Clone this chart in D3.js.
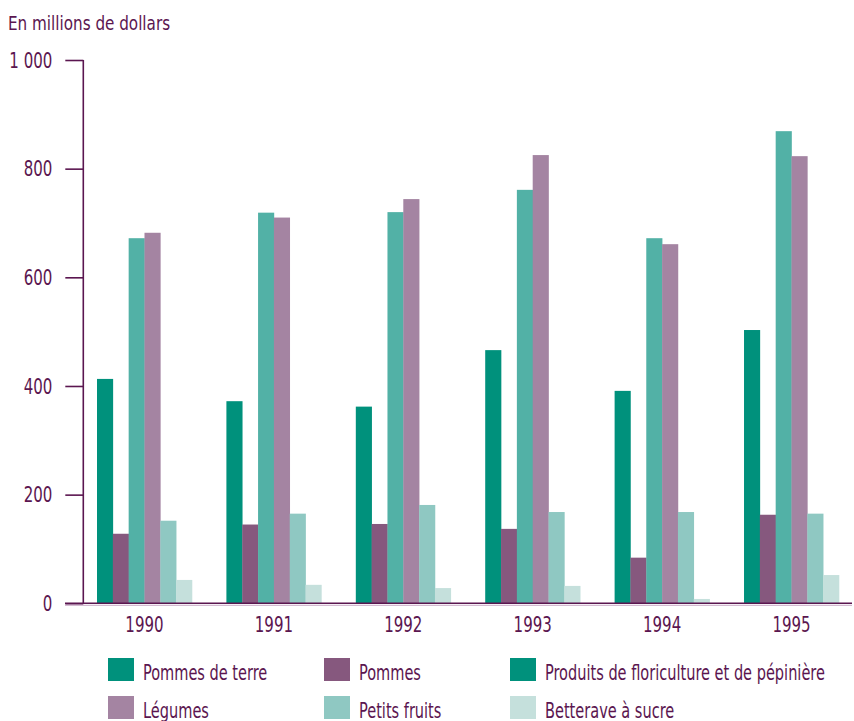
<!DOCTYPE html>
<html>
<head>
<meta charset="utf-8">
<script src="https://cdn.jsdelivr.net/npm/d3@7"></script>
<style>
  body { margin: 0; background: #fff; }
  svg { display: block; }
  text { font-family: "DejaVu Sans Condensed", "DejaVu Sans", sans-serif; fill: #5b1650; }
</style>
</head>
<body>
<div id="chart"></div>
<script>
const years = ["1990", "1991", "1992", "1993", "1994", "1995"];
const seriesNames = ["Pommes de terre", "Pommes", "Produits de floriculture et de pépinière", "Légumes", "Petits fruits", "Betterave à sucre"];
const pommesDeTerre = [413, 372, 362, 466, 391, 503];
const pommes = [128, 145, 146, 137, 84, 163];
const floriculture = [672, 719, 720, 761, 672, 869];
const legumes = [682, 710, 744, 825, 661, 823];
const petitsFruits = [152, 165, 181, 168, 168, 165];
const betterave = [43, 34, 28, 32, 8, 52];
const yTicks = [0, 200, 400, 600, 800, 1000];
const yTickLabels = ["0", "200", "400", "600", "800", "1 000"];
const unitLabel = "En millions de dollars";

const barColors = ["#00917c", "#86587e", "#52b1a6", "#a484a2", "#8fc8c2", "#c5e0dc"];
const legendColors = ["#00917c", "#86587e", "#00917c", "#a484a2", "#8fc8c2", "#c5e0dc"];
const values = [pommesDeTerre, pommes, floriculture, legumes, petitsFruits, betterave];
const ink = "#5b1650";

// horizontally condense text (reference uses a narrow face)
function condense(sel, k) {
  sel.each(function () {
    const t = d3.select(this);
    const x = +t.attr("x") || 0;
    t.attr("x", x / k).attr("transform", `scale(${k},1)`);
  });
}

const W = 854, H = 721;
const svg = d3.select("#chart").append("svg").attr("width", W).attr("height", H);

const y = d3.scaleLinear().domain([0, 1000]).range([603.3, 60]);
const x0 = d3.scaleBand().domain(years).range([97, 839]).paddingInner(0.266).paddingOuter(0);
const x1 = d3.scaleBand().domain(d3.range(seriesNames.length)).range([0, x0.bandwidth()]).padding(0);

// bars
const groups = svg.append("g").selectAll("g").data(years).join("g")
  .attr("transform", d => `translate(${x0(d)},0)`);
groups.selectAll("rect")
  .data((yr, i) => values.map((s, k) => ({k, v: s[i]})))
  .join("rect")
  .attr("x", d => x1(d.k))
  .attr("width", x1.bandwidth() + 0.3)
  .attr("y", d => y(d.v))
  .attr("height", d => y(0) - y(d.v))
  .attr("fill", d => barColors[d.k]);

// y axis
const yAxis = d3.axisLeft(y).tickValues(yTicks)
  .tickFormat((d, i) => yTickLabels[i]).tickSize(18).tickPadding(13);
const ga = svg.append("g").attr("transform", "translate(83.3,0)").call(yAxis);
ga.select(".domain").remove();
ga.selectAll(".tick line").attr("stroke", ink).attr("stroke-width", 1.6);
ga.selectAll(".tick text").attr("font-size", 22).attr("fill", ink)
  .style("font-family", '"DejaVu Sans Condensed", "DejaVu Sans", sans-serif');
condense(ga.selectAll(".tick text"), 0.76);
svg.append("line").attr("x1", 83.3).attr("x2", 83.3).attr("y1", y(1000)).attr("y2", y(0))
  .attr("stroke", ink).attr("stroke-width", 1.6);
// baseline
svg.append("line").attr("x1", 65).attr("x2", 852).attr("y1", y(0)).attr("y2", y(0))
  .attr("stroke", ink).attr("stroke-width", 1.6);
svg.append("line").attr("x1", 65).attr("x2", 852).attr("y1", y(0) + 2).attr("y2", y(0) + 2)
  .attr("stroke", "#c9a9c6").attr("stroke-width", 1);

// x axis labels
const xAxis = d3.axisBottom(x0).tickSize(0).tickPadding(13);
const gx = svg.append("g").attr("transform", `translate(0,${y(0)})`).call(xAxis);
gx.select(".domain").remove();
gx.selectAll(".tick text").attr("font-size", 22).attr("fill", ink)
  .style("font-family", '"DejaVu Sans Condensed", "DejaVu Sans", sans-serif');
condense(gx.selectAll(".tick text"), 0.76);

// unit label
const ul = svg.append("text").attr("x", 8).attr("y", 30).attr("font-size", 20).text(unitLabel);
condense(ul, 0.845);

// legend
const legCols = [108, 324, 510];
const legRows = [658, 696];
const leg = svg.append("g").selectAll("g").data(seriesNames).join("g")
  .attr("transform", (d, i) => `translate(${legCols[i % 3]},${legRows[Math.floor(i / 3)]})`);
leg.append("rect").attr("width", 26).attr("height", 23).attr("fill", (d, i) => legendColors[i]);
const lt = leg.append("text").attr("x", 35).attr("y", 22).attr("font-size", 21).text(d => d);
condense(lt, 0.77);
</script>
</body>
</html>
